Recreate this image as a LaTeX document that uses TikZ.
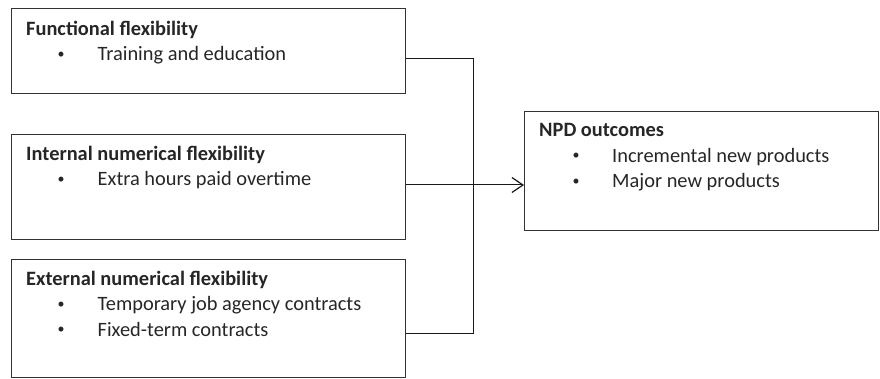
\documentclass[tikz,border=0pt]{standalone}
\usepackage{fontspec}
\setmainfont{Carlito}
\usetikzlibrary{arrows.meta}
\begin{document}
\begin{tikzpicture}[x=1pt,y=-1pt,
  box/.style={draw=black!80, line width=1.1pt, rectangle, inner sep=0pt, anchor=north west},
  lbl/.style={anchor=base west, inner sep=0pt, text=black!85, font=\fontsize{20.4}{25}\selectfont},
  ttl/.style={lbl, font=\fontsize{20.4}{25}\selectfont\bfseries},
  bul/.style={anchor=base, inner sep=0pt, yshift=2.5pt, text=black!85, font=\fontsize{14}{16}\selectfont},
  conn/.style={draw=black!90, line width=1pt}]
\useasboundingbox (0,0) rectangle (880,379);
% boxes
\node[box, minimum width=394pt, minimum height=85pt] (b1) at (11,8) {};
\node[box, minimum width=394pt, minimum height=105pt] (b2) at (11,134) {};
\node[box, minimum width=394pt, minimum height=118pt] (b3) at (11,259) {};
\node[box, minimum width=354pt, minimum height=119pt] (out) at (524,111) {};
% box 1 text
\node[ttl] (t1) at (26,35.7) {Functional flexibility};
\node[bul] (d1) at (61,60.7) {•};
\node[lbl] (i1) at (97.5,60.7) {Training and education};
% box 2 text
\node[ttl] (t2) at (26,160.7) {Internal numerical flexibility};
\node[bul] (d2) at (61,185.7) {•};
\node[lbl] (i2) at (97.5,185.7) {Extra hours paid overtime};
% box 3 text
\node[ttl] (t3) at (26,285) {External numerical flexibility};
\node[bul] (d3a) at (61,310.5) {•};
\node[lbl] (i3a) at (97.5,310.5) {Temporary job agency contracts};
\node[bul] (d3b) at (61,336) {•};
\node[lbl] (i3b) at (97.5,336) {Fixed-term contracts};
% output text
\node[ttl] (to) at (539,137) {NPD outcomes};
\node[bul] (d4a) at (576,162.5) {•};
\node[lbl] (i4a) at (612,162.5) {Incremental new products};
\node[bul] (d4b) at (576,188) {•};
\node[lbl] (i4b) at (612,188) {Major new products};
% connectors
\coordinate (j1) at (473,59);
\coordinate (j3) at (473,333);
\coordinate (ay) at (0,185);
\draw[conn] (b1.east |- j1) -- (j1) -- (j3) -- (b3.east |- j3);
\draw[conn, -{Straight Barb[length=11pt,width=15pt,line width=1.2pt]}] (b2.east |- ay) -- (out.west |- ay);
\end{tikzpicture}
\end{document}
